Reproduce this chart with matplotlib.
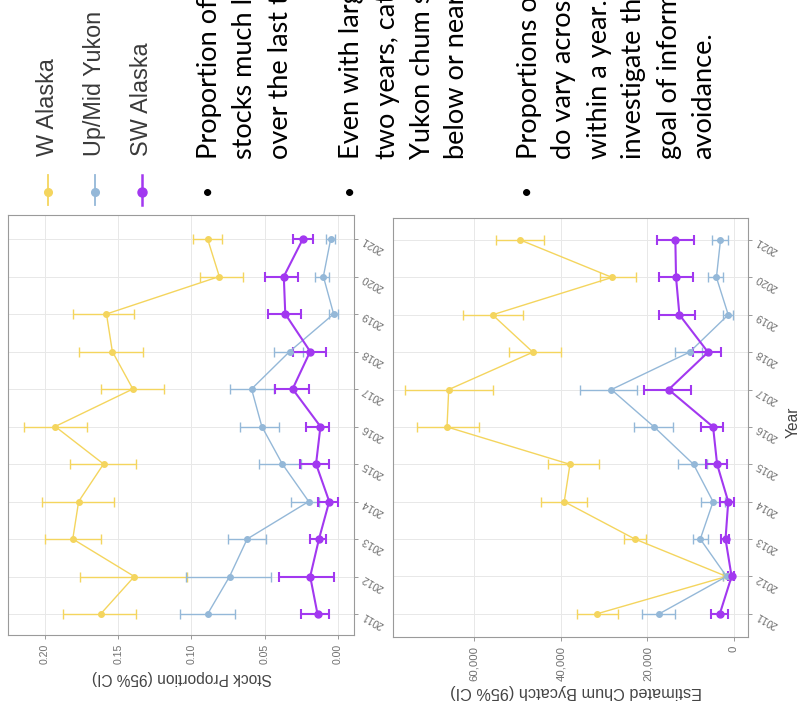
import numpy as np
import matplotlib
matplotlib.use("Agg")
import matplotlib.pyplot as plt
from matplotlib.lines import Line2D
from matplotlib.ticker import FuncFormatter

# ---------------- data ----------------
years = [2011, 2012, 2013, 2014, 2015, 2016, 2017, 2018, 2019, 2020, 2021]
stocks = ["W Alaska", "Up/Mid Yukon", "SW Alaska"]

w_prop = [0.162, 0.139, 0.181, 0.177, 0.160, 0.193, 0.140, 0.154, 0.158, 0.081, 0.089]
w_prop_lo = [0.138, 0.103, 0.162, 0.153, 0.138, 0.171, 0.119, 0.133, 0.139, 0.065, 0.079]
w_prop_hi = [0.188, 0.176, 0.200, 0.202, 0.183, 0.214, 0.162, 0.177, 0.181, 0.094, 0.099]

y_prop = [0.089, 0.074, 0.062, 0.020, 0.038, 0.052, 0.059, 0.033, 0.003, 0.010, 0.005]
y_prop_lo = [0.070, 0.046, 0.049, 0.013, 0.025, 0.040, 0.044, 0.024, 0.000, 0.006, 0.002]
y_prop_hi = [0.108, 0.104, 0.075, 0.032, 0.054, 0.067, 0.074, 0.044, 0.006, 0.016, 0.008]

sw_prop = [0.014, 0.019, 0.013, 0.006, 0.015, 0.012, 0.031, 0.019, 0.036, 0.037, 0.024]
sw_prop_lo = [0.006, 0.003, 0.008, 0.000, 0.006, 0.006, 0.020, 0.008, 0.025, 0.027, 0.017]
sw_prop_hi = [0.025, 0.040, 0.019, 0.014, 0.026, 0.022, 0.043, 0.031, 0.048, 0.050, 0.031]

w_byc = [31660, 1710, 22870, 39210, 37890, 66290, 65900, 46450, 55780, 28160, 49330]
w_byc_lo = [26760, 930, 20380, 34000, 31280, 58900, 55780, 39990, 48780, 22720, 43880]
w_byc_hi = [36330, 2490, 25440, 44500, 42950, 73290, 76000, 51890, 62550, 30890, 55000]

y_byc = [17270, 1710, 7780, 4820, 9340, 18440, 28320, 10270, 1320, 4050, 3110]
y_byc_lo = [13540, 900, 5990, 2100, 6220, 14160, 22330, 7310, 310, 2490, 1320]
y_byc_hi = [21160, 2500, 9490, 7550, 12990, 23110, 35550, 13610, 2490, 5990, 5060]

sw_byc = [3270, 545, 1950, 1320, 3890, 4820, 15090, 5990, 12600, 13380, 13540]
sw_byc_lo = [1320, 0, 1090, 0, 1710, 2490, 9880, 2880, 9100, 9490, 9340]
sw_byc_hi = [5210, 1320, 2880, 3270, 6540, 7550, 20770, 9490, 17270, 17430, 17890]

prop_ticks = [0.00, 0.05, 0.10, 0.15, 0.20]
byc_ticks = [0, 20000, 40000, 60000]

bullet1 = ["Proportion of", "stocks much l", "over the last t"]
bullet2 = ["Even with larg", "two years, cat", "Yukon chum s", "below or near"]
bullet3 = ["Proportions o", "do vary acros", "within a year.", "investigate th", "goal of inform", "avoidance."]

# ---------------- style ----------------
colors = {"W Alaska": "#F4D55E", "Up/Mid Yukon": "#94B8D8", "SW Alaska": "#A238F0"}
lw = {"W Alaska": 1.0, "Up/Mid Yukon": 1.0, "SW Alaska": 1.5}
ms = {"W Alaska": 4.0, "Up/Mid Yukon": 4.0, "SW Alaska": 5.0}
chart_font = "Liberation Sans"
slide_font = "Lato"

W, H = 802, 708
fig = plt.figure(figsize=(W / 100, H / 100), dpi=100)
fig.patch.set_facecolor("white")


def px_axes(x0, y0, x1, y1):
    return fig.add_axes([x0 / W, 1 - y1 / H, (x1 - x0) / W, (y1 - y0) / H])


def style_axes(ax, xlim, ticks, fmt, ylim, tick_fs):
    ax.set_xlim(*xlim)
    ax.set_ylim(*ylim)
    ax.set_xticks(ticks)
    ax.xaxis.set_major_formatter(FuncFormatter(fmt))
    ax.set_yticks(years)
    ax.yaxis.tick_right()
    ax.grid(True, color="#E8E8E8", lw=0.7, zorder=0)
    ax.set_axisbelow(True)
    for s in ax.spines.values():
        s.set_color("#9A9A9A")
        s.set_linewidth(0.8)
    ax.tick_params(axis="both", colors="#8A8A8A", length=3, width=0.6)
    for lab in ax.get_xticklabels():
        lab.set_rotation(90)
        lab.set_ha("center")
        lab.set_va("top")
        lab.set_fontsize(tick_fs)
        lab.set_color("#707070")
        lab.set_family(chart_font)
    ax.set_yticklabels([str(y) for y in years])
    for lab in ax.get_yticklabels():
        lab.set_rotation(150)
        lab.set_rotation_mode("anchor")
        lab.set_ha("right")
        lab.set_va("center")
        lab.set_fontsize(7.6)
        lab.set_color("#707070")
        lab.set_family(chart_font)


def draw_series(ax, name, vals, lo, hi):
    v = np.array(vals, float)
    l = np.array(lo, float)
    h = np.array(hi, float)
    ax.errorbar(v, years, xerr=[v - l, h - v], fmt="-o", color=colors[name],
                lw=lw[name], ms=ms[name], capsize=3.6, elinewidth=lw[name],
                capthick=lw[name], zorder=3)


axL = px_axes(8, 215, 354, 635)
for name, v, l, h in [("W Alaska", w_prop, w_prop_lo, w_prop_hi),
                      ("Up/Mid Yukon", y_prop, y_prop_lo, y_prop_hi),
                      ("SW Alaska", sw_prop, sw_prop_lo, sw_prop_hi)]:
    draw_series(axL, name, v, l, h)
style_axes(axL, (0.2252, -0.0109), prop_ticks, lambda x, p: f"{x:.2f}",
           (2010.44, 2021.64), 7.6)

axR = px_axes(393, 218, 748, 637)
for name, v, l, h in [("W Alaska", w_byc, w_byc_lo, w_byc_hi),
                      ("Up/Mid Yukon", y_byc, y_byc_lo, y_byc_hi),
                      ("SW Alaska", sw_byc, sw_byc_lo, sw_byc_hi)]:
    draw_series(axR, name, v, l, h)
style_axes(axR, (78770, -3245), byc_ticks, lambda x, p: f"{int(x):,}",
           (2010.38, 2021.59), 8.2)

# ---------------- overlay (slide text, legend, titles) ----------------
ov = fig.add_axes([0, 0, 1, 1], zorder=5)
ov.set_xlim(0, W)
ov.set_ylim(H, 0)
ov.axis("off")
ov.patch.set_alpha(0)

ov.text(182, 677, "Stock Proportion (95% CI)", rotation=180, ha="center", va="center",
        fontsize=11.2, color="#444444", family=chart_font)
ov.text(576, 692, "Estimated Chum Bycatch (95% CI)", rotation=180, ha="center", va="center",
        fontsize=11.7, color="#444444", family=chart_font)
ov.text(793, 422, "Year", rotation=90, ha="center", va="center",
        fontsize=11.2, color="#444444", family=chart_font)

# legend
for x, name in zip([48, 95, 142], stocks):
    ov.add_line(Line2D([x, x], [175, 205], color=colors[name], lw=lw[name] + 0.3))
    ov.plot([x], [192], "o", color=colors[name], ms=ms[name] + 1.5)
    ov.text(x, 156, name, rotation=90, rotation_mode="anchor", ha="left", va="center",
            fontsize=16.8, color="#3A3A3A", family=chart_font)

# bullets
def bullet(lines, x0, step=35):
    ov.text(x0 - 2, 193, "\u2022", ha="center", va="center", fontsize=14, color="black",
            family=slide_font)
    for i, s in enumerate(lines):
        ov.text(x0 + i * step, 159, s, rotation=90, rotation_mode="anchor",
                ha="left", va="center", fontsize=19.5, color="black", family=slide_font)

bullet(bullet1, 210)
bullet(bullet2, 352)
bullet(bullet3, 529)

fig.savefig("out.png", dpi=100)
